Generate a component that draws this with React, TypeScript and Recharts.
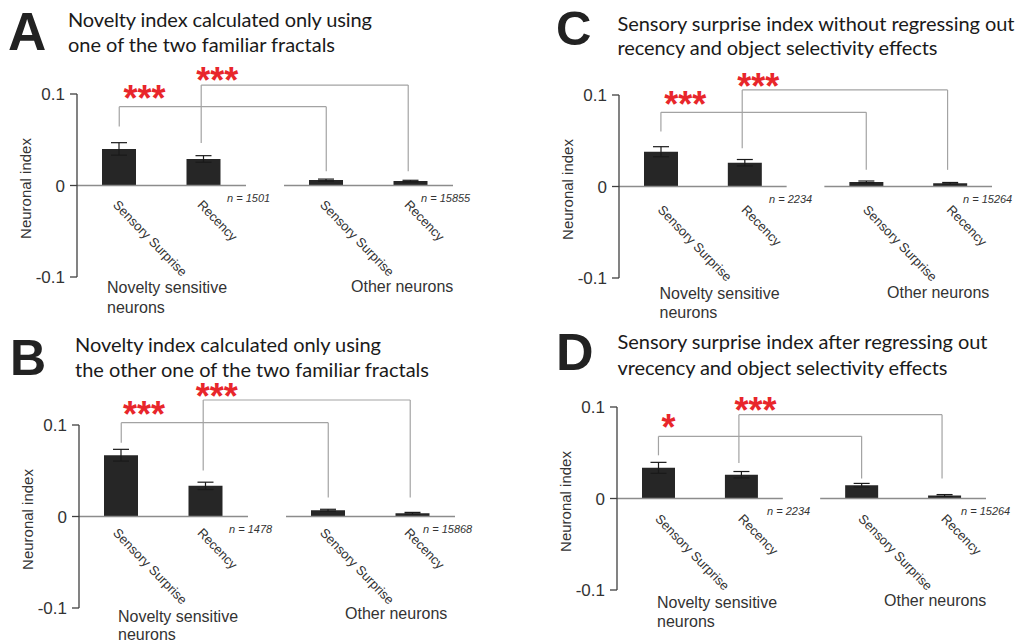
import { Bar, BarChart, ErrorBar, ReferenceDot, ReferenceLine, XAxis, YAxis } from 'recharts';

const CATEGORIES = ['Sensory Surprise', 'Recency', 'Sensory Surprise', 'Recency'];
const X_POS = [1, 2, 3.45, 4.45];
const Y_TICKS = [-0.1, 0, 0.1];
const GROUP_LABELS = ['Novelty sensitive', 'neurons', 'Other neurons'];

// A: novelty index, one familiar fractal
const A_VALUES = [0.04, 0.029, 0.0059, 0.0048];
const A_ERRORS = [0.0068, 0.0036, 0.0011, 0.0009];
const A_N = ['n = 1501', 'n = 15855'];
// bracket: [x from, x to, level, left leg end, right leg end]
const A_BRACKETS = [[1, 3.45, 0.0862, 0.0645, 0.0155], [1.97, 4.42, 0.1098, 0.0464, 0.0155]];
const A_STARS: [string, number, number][] = [['***', 1.3, 0.104], ['***', 2.16, 0.124]];

// B: the other familiar fractal
const B_VALUES = [0.067, 0.0335, 0.0069, 0.0036];
const B_ERRORS = [0.0064, 0.004, 0.001, 0.0009];
const B_N = ['n = 1478', 'n = 15868'];
const B_BRACKETS = [[1, 3.45, 0.1025, 0.0807, 0.0207], [1.97, 4.42, 0.1273, 0.0502, 0.0207]];
const B_STARS: [string, number, number][] = [['***', 1.27, 0.1207], ['***', 2.13, 0.1403]];

// C: sensory surprise, no regression
const C_VALUES = [0.038, 0.026, 0.005, 0.0036];
const C_ERRORS = [0.0055, 0.0035, 0.001, 0.0008];
const C_N = ['n = 2234', 'n = 15264'];
const C_BRACKETS = [[1, 3.45, 0.0811, 0.06, 0.0182], [1.97, 4.42, 0.1055, 0.0419, 0.0182]];
const C_STARS: [string, number, number][] = [['***', 1.29, 0.0992], ['***', 2.16, 0.1189]];

// D: sensory surprise after regression
const D_VALUES = [0.0335, 0.026, 0.0145, 0.0033];
const D_ERRORS = [0.006, 0.0035, 0.002, 0.001];
const D_N = ['n = 2234', 'n = 15264'];
const D_BRACKETS = [[1, 3.45, 0.0679, 0.0472, 0.0218], [1.97, 4.42, 0.0916, 0.0388, 0.0218]];
const D_STARS: [string, number, number][] = [['*', 1.12, 0.0865], ['***', 2.17, 0.106]];

const AXIS_FONT = '"Liberation Sans", Arial, sans-serif';
const TITLE_FONT = 'Lato, "Open Sans", sans-serif';
const BAR_FILL = '#262626';
const BRACKET = '#a3a3a3';
const STAR_RED = '#e8262b';

const YW = 80; // y axis width
const MT = 60; // room above 0.1 for brackets
const MR = 20;
const XH = 40;
const TICK_ANGLE = 46;

type Layout = {
  letter: string;
  letterX: number;
  letterY: number;
  letterSize: number;
  title: string[];
  titleX: number;
  titleY: number[];
  titleW: number[];
  left: number;
  right: number;
  top: number;
  bottom: number;
  tickDx: number;
  tickDy: number;
  novX: number;
  novY: number[];
  othX: number;
  othY: number;
  barSize: number;
};

type PanelProps = {
  layout: Layout;
  values: number[];
  errors: number[];
  nLabels: string[];
  brackets: number[][];
  stars: [string, number, number][];
};

function Panel({ layout: l, values, errors, nLabels, brackets, stars }: PanelProps) {
  const data = X_POS.map((x, i) => ({ x, value: values[i], err: errors[i] }));
  const plotW = l.right - l.left;
  const plotH = l.bottom - l.top;
  const zero = (l.top + l.bottom) / 2;
  const zeroLocal = MT + plotH / 2;

  const renderTick = (props: any) => {
    const i = X_POS.indexOf(props.payload.value);
    const tx = props.x + l.tickDx;
    const ty = zeroLocal + l.tickDy;
    return (
      <text
        x={tx}
        y={ty}
        transform={`rotate(${TICK_ANGLE}, ${tx}, ${ty})`}
        fontSize={13}
        fontFamily={AXIS_FONT}
        fill="#333"
      >
        {CATEGORIES[i]}
      </text>
    );
  };

  const starLabel = (text: string) => (props: any) => {
    const vb = props.viewBox || {};
    return (
      <text
        x={vb.x}
        y={vb.y + 21}
        textAnchor="middle"
        fontSize={36}
        fontWeight="bold"
        fontFamily={AXIS_FONT}
        fill={STAR_RED}
      >
        {text}
      </text>
    );
  };

  return (
    <>
      <div style={{ position: 'absolute', left: l.left - YW, top: l.top - MT }}>
        <BarChart
          width={YW + plotW + MR}
          height={MT + plotH + XH}
          data={data}
          margin={{ top: MT, right: MR, left: 0, bottom: 0 }}
          style={{ overflow: 'visible' }}
        >
          <XAxis
            dataKey="x"
            type="number"
            domain={[0.5, 4.95]}
            allowDataOverflow
            ticks={X_POS}
            interval={0}
            height={XH}
            axisLine={false}
            tickLine={false}
            tick={renderTick}
          />
          <YAxis
            width={YW}
            domain={[-0.1, 0.1]}
            ticks={Y_TICKS}
            interval={0}
            allowDataOverflow
            tickFormatter={(v: number) => (v === 0 ? '0' : String(v))}
            tick={{ fontSize: 17, fontFamily: AXIS_FONT, fill: '#333' }}
            tickSize={7}
            tickMargin={5}
            axisLine={{ stroke: '#404040', strokeWidth: 1.3 }}
            tickLine={{ stroke: '#404040', strokeWidth: 1.3 }}
          />
          <ReferenceLine
            segment={[{ x: 0.5, y: 0 }, { x: 2.5, y: 0 }]}
            stroke="#8c8c8c"
            strokeWidth={1.3}
            ifOverflow="visible"
          />
          <ReferenceLine
            segment={[{ x: 2.95, y: 0 }, { x: 4.95, y: 0 }]}
            stroke="#8c8c8c"
            strokeWidth={1.3}
            ifOverflow="visible"
          />
          <Bar dataKey="value" fill={BAR_FILL} barSize={l.barSize} isAnimationActive={false}>
            <ErrorBar dataKey="err" width={8} stroke="#1a1a1a" strokeWidth={1.2} />
          </Bar>
          {brackets.flatMap(([x1, x2, y, yl, yr], i) => [
            <ReferenceLine
              key={`h${i}`}
              segment={[{ x: x1, y }, { x: x2, y }]}
              stroke={BRACKET}
              strokeWidth={1.2}
              ifOverflow="visible"
            />,
            <ReferenceLine
              key={`l${i}`}
              segment={[{ x: x1, y }, { x: x1, y: yl }]}
              stroke={BRACKET}
              strokeWidth={1.2}
              ifOverflow="visible"
            />,
            <ReferenceLine
              key={`r${i}`}
              segment={[{ x: x2, y }, { x: x2, y: yr }]}
              stroke={BRACKET}
              strokeWidth={1.2}
              ifOverflow="visible"
            />,
          ])}
          {stars.map(([text, x, y], i) => (
            <ReferenceDot
              key={`s${i}`}
              x={x}
              y={y}
              r={0}
              fill="none"
              stroke="none"
              ifOverflow="visible"
              label={starLabel(text)}
            />
          ))}
        </BarChart>
      </div>
      <svg
        width={1019}
        height={643}
        style={{ position: 'absolute', left: 0, top: 0, pointerEvents: 'none', overflow: 'visible' }}
      >
        <text x={l.letterX} y={l.letterY} fontSize={l.letterSize} fontWeight="bold" fontFamily={AXIS_FONT} fill="#222">
          {l.letter}
        </text>
        {l.title.map((t, i) => (
          <text
            key={i}
            x={l.titleX}
            y={l.titleY[i]}
            fontSize={20}
            fontFamily={TITLE_FONT}
            fill="#1a1a1a"
            textLength={l.titleW[i]}
            lengthAdjust="spacing"
          >
            {t}
          </text>
        ))}
        <text
          x={l.left - 46}
          y={zero + 3}
          transform={`rotate(-90, ${l.left - 46}, ${zero + 3})`}
          textAnchor="middle"
          fontSize={15}
          fontFamily={AXIS_FONT}
          fill="#333"
        >
          Neuronal index
        </text>
        <text x={l.left + 150} y={zero + 16} fontSize={11} fontStyle="italic" fontFamily={AXIS_FONT} fill="#333">
          {nLabels[0]}
        </text>
        <text x={l.left + 344} y={zero + 16} fontSize={11} fontStyle="italic" fontFamily={AXIS_FONT} fill="#333">
          {nLabels[1]}
        </text>
        <text x={l.novX} y={l.novY[0]} fontSize={16} fontFamily={AXIS_FONT} fill="#333">
          {GROUP_LABELS[0]}
        </text>
        <text x={l.novX} y={l.novY[1]} fontSize={16} fontFamily={AXIS_FONT} fill="#333">
          {GROUP_LABELS[1]}
        </text>
        <text x={l.othX} y={l.othY} fontSize={16} fontFamily={AXIS_FONT} fill="#333">
          {GROUP_LABELS[2]}
        </text>
      </svg>
    </>
  );
}

const LAYOUT_A: Layout = {
  letter: 'A', letterX: 8, letterY: 50, letterSize: 53,
  title: ['Novelty index calculated only using', 'one of the two familiar fractals'],
  titleX: 68, titleY: [26.5, 51.5], titleW: [304, 267],
  left: 77, right: 453, top: 94, bottom: 277, tickDx: -7, tickDy: 20,
  novX: 107, novY: [293.3, 312.7], othX: 351, othY: 292.3, barSize: 34,
};

const LAYOUT_B: Layout = {
  letter: 'B', letterX: 10, letterY: 375, letterSize: 50,
  title: ['Novelty index calculated only using', 'the other one of the two familiar fractals'],
  titleX: 75, titleY: [351.7, 376.7], titleW: [306, 354],
  left: 79, right: 455, top: 425, bottom: 608, tickDx: -9, tickDy: 17,
  novX: 118, novY: [621.7, 640], othX: 345, othY: 619.3, barSize: 34,
};

const LAYOUT_C: Layout = {
  letter: 'C', letterX: 556, letterY: 44.5, letterSize: 49,
  title: ['Sensory surprise index without regressing out', 'recency and object selectivity effects'],
  titleX: 617.5, titleY: [30.5, 55], titleW: [397, 320],
  left: 619, right: 992, top: 95, bottom: 278, tickDx: -4, tickDy: 24,
  novX: 659.5, novY: [299.3, 318.3], othX: 887, othY: 297.7, barSize: 34,
};

const LAYOUT_D: Layout = {
  letter: 'D', letterX: 556, letterY: 370, letterSize: 52,
  title: ['Sensory surprise index after regressing out', 'vrecency and object selectivity effects'],
  titleX: 617.5, titleY: [349.3, 375], titleW: [370, 330],
  left: 617, right: 986, top: 407, bottom: 590, tickDx: -4, tickDy: 21,
  novX: 657, novY: [607.7, 626.7], othX: 884, othY: 606, barSize: 33,
};

export default function App() {
  return (
    <div style={{ position: 'absolute', left: 0, top: 0, width: 1019, height: 643, background: '#fff', overflow: 'hidden' }}>
      <Panel layout={LAYOUT_A} values={A_VALUES} errors={A_ERRORS} nLabels={A_N} brackets={A_BRACKETS} stars={A_STARS} />
      <Panel layout={LAYOUT_B} values={B_VALUES} errors={B_ERRORS} nLabels={B_N} brackets={B_BRACKETS} stars={B_STARS} />
      <Panel layout={LAYOUT_C} values={C_VALUES} errors={C_ERRORS} nLabels={C_N} brackets={C_BRACKETS} stars={C_STARS} />
      <Panel layout={LAYOUT_D} values={D_VALUES} errors={D_ERRORS} nLabels={D_N} brackets={D_BRACKETS} stars={D_STARS} />
    </div>
  );
}
